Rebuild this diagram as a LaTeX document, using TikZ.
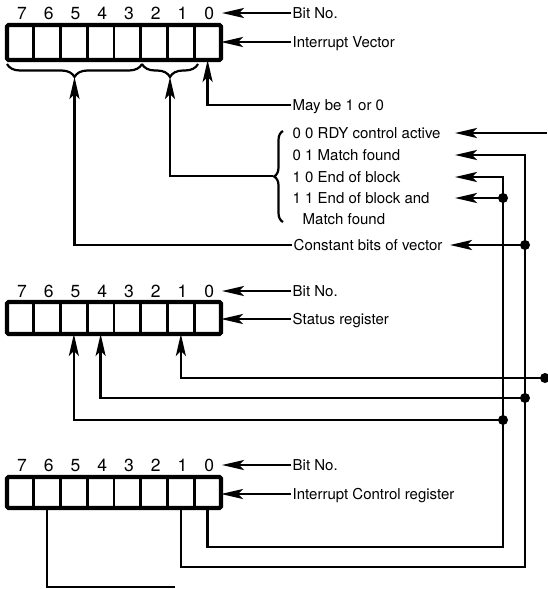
\documentclass[tikz,border=0pt]{standalone}
\usepackage{fontspec}
\setmainfont{TeX Gyre Heros}
\usetikzlibrary{arrows.meta,decorations.pathreplacing,calc}
\begin{document}
\begin{tikzpicture}[x=1pt,y=-1pt,
  arr/.style={line width=2.4pt,-{Stealth[length=22pt,width=10pt,inset=5pt]}},
  wire/.style={line width=2.4pt},
  regcell/.style={draw,line width=2.6pt,minimum width=26.75pt,inner sep=0pt,outer sep=0pt},
  regbox/.style={draw,line width=4.2pt,minimum width=214pt,inner sep=0pt,outer sep=0pt,rounded corners=1.5pt},
  digit/.style={inner sep=0pt,text height=12.5pt,text depth=0pt,font=\fontsize{17.5}{20}\selectfont},
  lbl/.style={anchor=west,inner sep=1.5pt,text height=10.8pt,text depth=0pt,font=\fontsize{15}{18}\selectfont},
  dot/.style={fill=black},
  bracestyle/.style={line width=2.2pt,decorate}]
\useasboundingbox (0,0) rectangle (547,589);
% ---------- registers ----------
\foreach \i in {0,...,7}{
  \node[regcell,minimum height=35pt] (t\i) at ({7+26.75*(7.5-\i)},42.5) {};
  \node[digit] (tn\i) at ({7+26.75*(7.5-\i)+1.5},13) {\i};
  \node[regcell,minimum height=32pt] (s\i) at ({7+26.75*(7.5-\i)},318) {};
  \node[digit] (sn\i) at ({7+26.75*(7.5-\i)+1.5},291) {\i};
  \node[regcell,minimum height=31pt] (c\i) at ({7+26.75*(7.5-\i)},492.5) {};
  \node[digit] (cn\i) at ({7+26.75*(7.5-\i)+1.5},465) {\i};
}
\node[regbox,minimum height=35pt] (treg) at (114,42.5) {};
\node[regbox,minimum height=32pt] (sreg) at (114,318) {};
\node[regbox,minimum height=31pt] (creg) at (114,492.5) {};
% ---------- labels ----------
\node[lbl] (bn1) at (291,13) {Bit No.};
\node[lbl] (iv) at (291,42) {Interrupt Vector};
\node[lbl] (mb) at (291,105) {May be 1 or 0};
\node[lbl] (l1) at (291,133) {0 0 RDY control active};
\node[lbl] (l2) at (291,155) {0 1 Match found};
\node[lbl] (l3) at (291,177) {1 0 End of block};
\node[lbl] (l4) at (291,198) {1 1 End of block and};
\node[lbl] (l5) at (301,219) {Match found};
\node[lbl] (cb) at (292,245) {Constant bits of vector};
\node[lbl] (bn2) at (291,291) {Bit No.};
\node[lbl] (sr) at (291,319) {Status register};
\node[lbl] (bn3) at (291,465) {Bit No.};
\node[lbl] (icr) at (291,494) {Interrupt Control register};
% ---------- coordinates ----------
\coordinate (tb) at (222,13);
\coordinate (sb) at (222,291);
\coordinate (cbn) at (222,465);
\coordinate (a1) at (455,133);
\coordinate (a2) at (455,155);
\coordinate (a3) at (455,177);
\coordinate (a4) at (455,198);
\coordinate (rdy) at (547,133);
\coordinate (dA1) at (503,198);
\coordinate (dB1) at (525,245);
\coordinate (dR) at (545,378);
\coordinate (dB2) at (525,398);
\coordinate (dA2) at (503,420);
\coordinate (kA) at (503,547);
\coordinate (kB) at (525,567);
\coordinate (k6) at (175,587);
\coordinate (ba) at (74.5,77);
\coordinate (bb) at (170,77);
\coordinate (bt) at (273,176);
% ---------- braces ----------
\draw[bracestyle,decoration={brace,mirror,amplitude=13pt}] (7,64) -- (142,64);
\draw[bracestyle,decoration={brace,mirror,amplitude=13pt}] (142,64) -- (198,64);
\draw[bracestyle,decoration={brace,amplitude=9pt}] (283,222) -- (283,131);
% ---------- label arrows ----------
\draw[arr] (bn1.west) -- (tb);
\draw[arr] (iv.west) -- (treg.east |- iv.west);
\draw[arr] (bn2.west) -- (sb);
\draw[arr] (sr.west) -- (sreg.east |- sr.west);
\draw[arr] (bn3.west) -- (cbn);
\draw[arr] (icr.west) -- (creg.east |- icr.west);
\draw[arr] (mb.west) -| (t0.south);
\draw[arr] (cb.west) -| (ba);
\draw[arr] (bt) -| (bb);
% ---------- nets ----------
\draw[arr] (rdy) -- (a1);
\draw[arr] (c0.south) |- (kA) |- (a3);
\draw[arr] (c1.south) |- (kB) |- (a2);
\draw[arr] (dA1) -- (a4);
\draw[arr] ($(dB1)+(-2,0)$) -- (450,245);
\draw[arr] (dR) -| (s1.south);
\draw[arr] (dB2) -| (s4.south);
\draw[arr] (dA2) -| (s5.south);
\draw[wire] (c6.south) |- (k6);
\foreach \d in {dA1,dB1,dR,dB2,dA2} \fill[dot] (\d) circle (5pt);
\end{tikzpicture}
\end{document}
